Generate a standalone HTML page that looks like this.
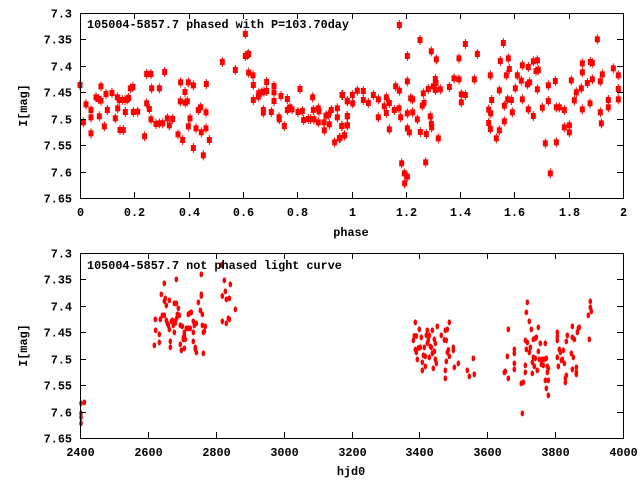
<!DOCTYPE html>
<html><head><style>
body{margin:0;background:#fff;}
svg text{font-family:"Liberation Mono",monospace;font-weight:bold;font-size:11.8px;fill:#000;}
</style></head><body>
<svg id="s" width="640" height="480" xmlns="http://www.w3.org/2000/svg">
<rect width="640" height="480" fill="#fff"/>
<g id="gtop"></g><g id="gbot"></g>
<g id="ax" stroke="#000" fill="none" stroke-width="1"></g>
<g id="tx"></g>
</svg>
<script>
var NS="http://www.w3.org/2000/svg";
function el(p,t,a,txt){var e=document.createElementNS(NS,t);for(var k in a)e.setAttribute(k,a[k]);if(txt!=null)e.textContent=txt;document.getElementById(p).appendChild(e);return e;}
var L=80,R=623;
var YL=['7.3','7.35','7.4','7.45','7.5','7.55','7.6','7.65'];
[[13,198],[253,438]].forEach(function(b,i){
 var T=b[0],B=b[1];
 el('ax','rect',{x:L+.5,y:T+.5,width:R-L,height:B-T});
 for(var j=0;j<=7;j++){var y=Math.round(T+(B-T)*j/7)+.5;
  el('ax','line',{x1:L,y1:y,x2:L+6,y2:y});el('ax','line',{x1:R-6,y1:y,x2:R,y2:y});
  el('tx','text',{x:72,y:y+4,'text-anchor':'end'},YL[j]);}
 var n=i?8:10;
 for(var j=0;j<=n;j++){var x=Math.round(L+(R-L)*j/n)+.5;
  el('ax','line',{x1:x,y1:B,x2:x,y2:B-6});el('ax','line',{x1:x,y1:T,x2:x,y2:T+6});
  var lab=i?String(2400+200*j):(j%5==0?String(j/5):(0.2*j).toFixed(1));
  el('tx','text',{x:x,y:B+18,'text-anchor':'middle'},lab);}
 el('tx','text',{x:27,y:(T+B)/2,'text-anchor':'middle',transform:'rotate(-90 27 '+(T+B)/2+')'},'I[mag]');
});
el('tx','text',{x:351,y:236,'text-anchor':'middle'},'phase');
el('tx','text',{x:351,y:475,'text-anchor':'middle'},'hjd0');
el('tx','text',{x:87,y:28},'105004-5857.7 phased with P=103.70day');
el('tx','text',{x:87,y:269},'105004-5857.7 not phased light curve');
var z1=[30,225,40,337,48,283,63,300,63,322,63,370,78,262,86,267,88,319,93,272,93,229,103,349,108,252,112,300,126,249,136,325,142,262,143,295,148,270,150,360,157,270,160,360,165,270,166,306,172,268,176,264,181,235,189,231,190,306,203,305,224,379,230,280,230,192,238,297,243,192,243,328,245,235,258,342,268,235,268,340,278,340,284,186,292,325,298,346,308,327,324,373,331,274,332,217,338,390,345,246,346,278,352,274,355,217,355,349,360,325,370,226,370,414,378,355,385,300,392,292,394,367,400,436,408,355,408,307,409,222,418,390,457,156,496,180,526,72,526,138,532,135,536,132,536,188,549,196,550,225,550,270,565,260,566,250,575,247,582,245,580,300,580,308,590,243,590,216,604,306,612,228,612,247,612,273,627,322,628,328,633,258,643,348,652,267,652,300,660,292,666,298,684,306,690,237,697,303,701,330,715,327,722,327,728,262,730,300,732,328,745,337,745,295,747,304,762,337,763,361,768,317,776,314,778,343,784,300,794,397,802,295,802,322,808,385,816,255,816,348,824,376,832,273,832,318,832,346];
var z2=[0,384,5,348,8,255,13,376,22,319,22,274,22,346,37,255,38,280,52,242,70,243,70,270,85,279,100,255,115,268,115,322,133,289,139,262,139,309,148,279,148,358,163,300,167,229,177,295,178,45,178,242,182,322,185,460,193,490,194,520,202,500,202,138,202,214,202,310,202,355,208,367,212,265,218,268,218,307,232,328,240,90,241,366,247,287,250,250,252,279,257,457,259,372,265,237,271,319,274,124,274,342,275,352,280,229,286,207,286,240,288,219,289,148,295,385,301,238,328,231,342,205,357,145,357,208,364,253,364,277,376,102,376,255,403,208,412,132,446,299,446,339,451,357,451,196,452,310,455,270,469,385,478,361,478,241,481,153,490,99,493,287,493,334,499,196,503,268,505,145,508,177,514,270,517,307,526,235,532,196,544,212,547,268,547,166,562,223,565,298,565,171,569,217,580,318,580,154,588,183,592,151,595,180,592,238,607,293,616,400,625,273,625,226,631,490,646,213,649,397,649,292,658,292,673,300,673,352,688,346,688,367,694,211,703,271,709,247,724,235,727,298,727,187,727,160,742,219,750,280,751,156,757,159,757,208,772,88,781,214,781,307,784,340,787,193,805,292,805,270,820,175,835,237,835,268,835,196];
var z3=[33,460,43,457,33,490,33,502,33,520,253,286,256,208,257,241,268,253,268,277,271,208,274,133,277,196,283,100,283,196,283,153,286,145,289,166,289,211,292,220,295,226,298,151,298,238,301,274,301,292,304,214,307,211,310,226,313,214,313,160,313,247,316,219,319,88,319,160,320,205,322,193,325,175,328,196,331,283,331,226,334,301,337,229,340,268,340,262,343,295,343,256,343,247,346,268,349,235,355,235,355,193,358,190,361,235,364,187,370,247,370,274,370,214,373,226,376,292,376,298,379,307,379,220,385,157,391,181,394,73,394,133,394,138,397,193,397,226,400,310,400,247,403,244,406,229,455,45,457,138,457,214,463,91,466,124,469,220,469,148,475,205,478,208,478,145,481,103,496,178];
var z4=[106,217,100,271,103,258,109,258,106,299,109,307,112,328,115,294,118,238,121,292,124,262,127,337,127,361,130,316,133,292,136,319,136,349,139,256,142,241,142,279,145,271,148,256,148,322,151,289,154,292,157,241,157,310,160,355,163,304,163,268,166,280,166,328,169,340,172,229,184,256,193,270,196,241,196,361,196,385,199,334,199,271,202,238,202,307,205,300,208,319,208,217,220,292,220,301,223,352,235,340,262,361,268,379,280,325,283,373,373,367,376,364,382,319,385,385,385,238,403,298,403,310,403,340,403,358,424,400,430,397,427,490,436,346,436,367,436,271,439,298,439,187,442,157,442,277,448,214,448,307,451,292,454,238,457,337,457,370,460,322,460,268,463,349,466,325,466,265,469,262,472,361,475,232,475,304,478,328,481,280,484,343,487,328,490,346,493,328,496,280,496,391,499,415,499,325,502,349,502,367,505,355,505,436,505,391,532,247,532,259,532,271,532,322,535,349,538,298,541,307,544,331,547,328,550,301,553,340,556,397,556,385,559,376,559,274,562,256,574,310,577,229,577,262,577,358,580,322,583,268,589,373,589,367,589,352,592,247,595,235,598,232,625,196,628,268,631,154,631,172,634,184];
function ptop(a,ox,oy){for(var i=0;i<a.length;i+=2){var x=a[i]/3+ox,y=a[i+1]/3+oy;
 el('gtop','rect',{x:x-2.5,y:y-3,width:5,height:6,fill:'#f00'});
 el('gtop','line',{x1:x,y1:y-5,x2:x,y2:y+5,stroke:'#f00','stroke-width':1});}}
function pbot(a,ox,oy){for(var i=0;i<a.length;i+=2){var x=a[i]/3+ox,y=a[i+1]/3+oy;
 el('gbot','ellipse',{cx:x,cy:y,rx:1.8,ry:3,fill:'#f00'});}}
ptop(z1,70,10);ptop(z2,340,10);pbot(z3,70,250);pbot(z4,380,250);
</script>
</body></html>
